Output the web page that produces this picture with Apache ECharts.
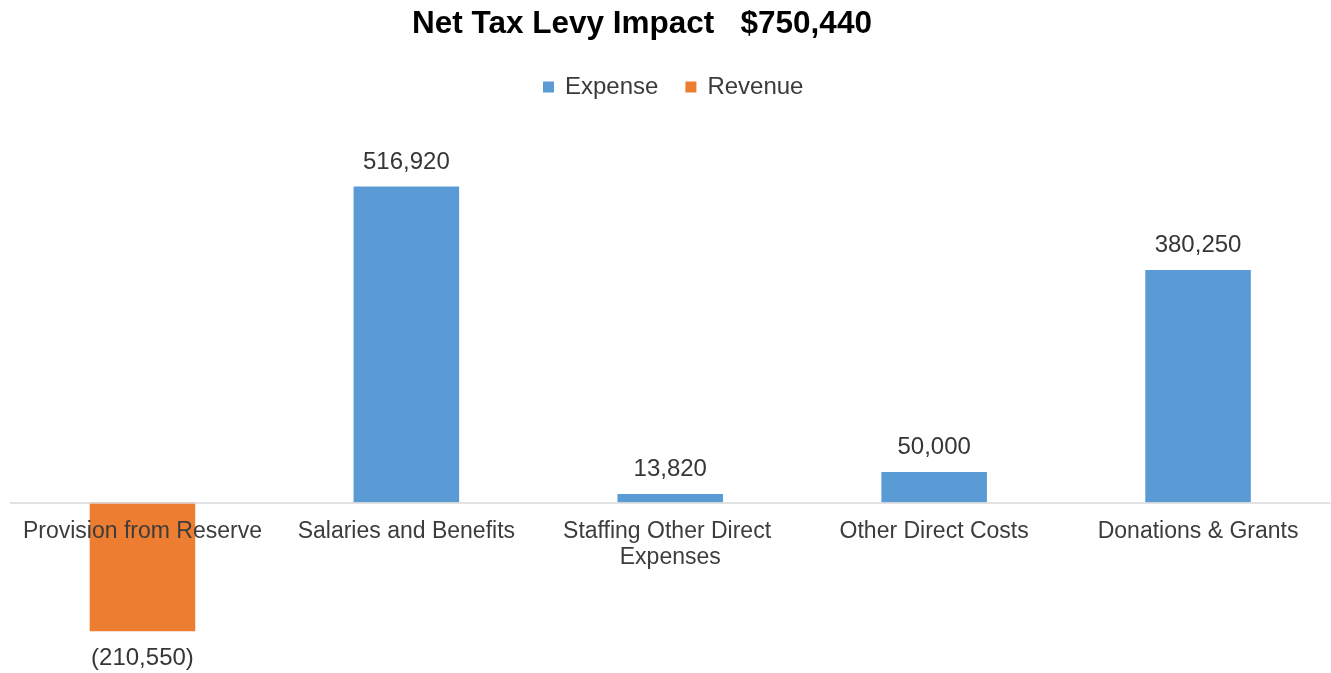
<!DOCTYPE html>
<html>
<head>
<meta charset="utf-8">
<script src="https://cdn.jsdelivr.net/npm/echarts@6/dist/echarts.min.js"></script>
<style>
html,body{margin:0;padding:0;background:#fff;}
#chart{width:1331px;height:673px;}
</style>
</head>
<body>
<div id="chart"></div>
<script>
const categories = ['Provision from Reserve', 'Salaries and Benefits', 'Staffing Other Direct Expenses', 'Other Direct Costs', 'Donations & Grants'];
const expenseValues = ['-', 516920, 13820, 50000, 380250];
const revenueValues = [-210550, '-', '-', '-', '-'];
const titleText = 'Net Tax Levy Impact   $750,440';
const yMin = -250000;
const yMax = 600000;

function fmt(v) {
  const s = Math.abs(v).toString().replace(/\B(?=(\d{3})+(?!\d))/g, ',');
  return v < 0 ? '(' + s + ')' : s;
}

const FONT = '"Liberation Sans", Arial, sans-serif';
const gridTop = 135.8, gridBottom = 17.7, H = 673;
const gridH = H - gridTop - gridBottom;
// distance from grid bottom up to the zero line
const zeroOffset = gridH * (0 - yMin) / (yMax - yMin);

const chart = echarts.init(document.getElementById('chart'));
chart.setOption({
  animation: false,
  backgroundColor: '#ffffff',
  title: {
    text: titleText,
    left: 407,
    top: 3,
    textStyle: { fontFamily: FONT, fontSize: 31.5, fontWeight: 'bold', color: '#000000' }
  },
  legend: {
    data: ['Expense', 'Revenue'],
    left: 538,
    top: 70,
    icon: 'rect',
    itemWidth: 11,
    itemHeight: 11,
    itemGap: 27,
    textStyle: { fontFamily: FONT, fontSize: 24, color: '#3a3a3a', padding: [0, 0, 0, 6] }
  },
  grid: { left: 10.5, right: 1, top: gridTop, bottom: gridBottom, containLabel: false, outerBoundsMode: 'none' },
  xAxis: {
    type: 'category',
    data: categories,
    z: 10,
    position: 'bottom',
    offset: -zeroOffset,
    axisLine: { onZero: false, lineStyle: { color: '#d9d9d9', width: 1.5 } },
    axisTick: { show: false },
    axisLabel: {
      interval: 0,
      margin: 16.5,
      width: 250,
      overflow: 'break',
      fontFamily: FONT,
      fontSize: 23,
      lineHeight: 26,
      color: '#3c3c3c'
    }
  },
  yAxis: {
    type: 'value',
    min: yMin,
    max: yMax,
    interval: 50000,
    show: false,
    splitLine: { show: false }
  },
  series: [
    {
      name: 'Expense',
      type: 'bar',
      data: expenseValues,
      barWidth: '40%',
      barGap: '-100%',
      itemStyle: { color: '#5b9bd5' },
      label: {
        show: true,
        position: 'top',
        distance: 12.5,
        fontFamily: FONT,
        fontSize: 24,
        color: '#363636',
        formatter: p => fmt(p.value)
      }
    },
    {
      name: 'Revenue',
      type: 'bar',
      data: revenueValues,
      barWidth: '40%',
      barGap: '-100%',
      itemStyle: { color: '#ed7d31' },
      label: {
        show: true,
        position: 'bottom',
        distance: 15,
        fontFamily: FONT,
        fontSize: 24,
        color: '#363636',
        formatter: p => fmt(p.value)
      }
    }
  ]
});
</script>
</body>
</html>
